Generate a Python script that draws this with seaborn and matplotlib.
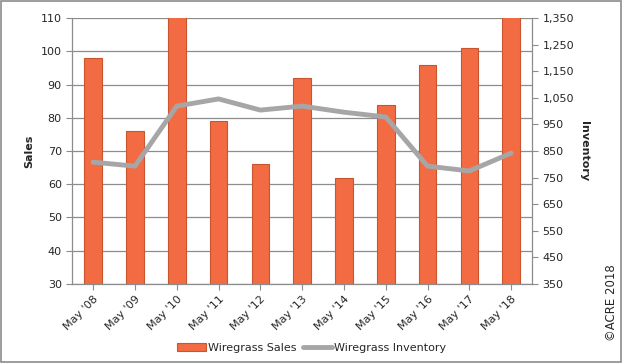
import pandas as pd
import matplotlib.pyplot as plt
import seaborn as sns
from matplotlib.ticker import FuncFormatter, MultipleLocator, FixedLocator

# Data
years = ["May '08", "May '09", "May '10", "May '11", "May '12", "May '13",
         "May '14", "May '15", "May '16", "May '17", "May '18"]
sales = [98, 76, 112, 79, 66, 92, 62, 84, 96, 101, 112]
inventory = [808, 793, 1019, 1046, 1004, 1019, 996, 978, 793, 775, 842]
inv_ticks = list(range(350, 1351, 100))

df = pd.DataFrame({'year': years, 'sales': sales, 'inventory': inventory})

sns.set_style('white')
plt.rcParams['font.family'] = ['DejaVu Sans']

fig = plt.figure(figsize=(6.23, 3.63), dpi=100)
ax = fig.add_axes([0.116, 0.218, 0.738, 0.732])

# Sales bars
sns.barplot(x='year', y='sales', data=df, ax=ax, color='#F26B43',
            saturation=1, width=0.42, edgecolor='#C85530', linewidth=0.8,
            label='Wiregrass Sales', legend=False)
ax.set_ylim(30, 110)
ax.yaxis.set_major_locator(MultipleLocator(10))
ax.grid(axis='y', color='#8c8c8c', linewidth=0.9)
ax.set_axisbelow(True)
ax.set_xlabel('')
ax.set_ylabel('Sales', fontsize=8, fontweight='bold', labelpad=5)
ax.tick_params(axis='y', labelsize=8, length=4, color='#8c8c8c', left=True)
ax.tick_params(axis='x', labelsize=8, length=4, color='#8c8c8c', bottom=True)
plt.setp(ax.get_xticklabels(), rotation=45, ha='right', rotation_mode='anchor')
ax.set_xlim(-0.5, len(years) - 0.5)

# Inventory line
ax2 = ax.twinx()
sns.lineplot(x='year', y='inventory', data=df, ax=ax2, color='#a6a6a6',
             linewidth=3.5, label='Wiregrass Inventory', legend=False)
ax2.set_ylim(350, 1350)
ax2.yaxis.set_major_locator(FixedLocator(inv_ticks))
ax2.yaxis.set_major_formatter(FuncFormatter(lambda v, p: f'{int(v):,}'))
ax2.set_ylabel('Inventory', fontsize=8, fontweight='bold', rotation=-90, labelpad=11)
ax2.tick_params(axis='y', labelsize=8, length=4, color='#8c8c8c', right=True)
ax2.grid(False)

for a in (ax, ax2):
    for side in ['top', 'left', 'right', 'bottom']:
        a.spines[side].set_visible(False)
ax.spines['left'].set_visible(True)
ax.spines['bottom'].set_visible(True)
ax2.spines['right'].set_visible(True)
for s in (ax.spines['left'], ax.spines['bottom'], ax2.spines['right']):
    s.set_color('#8c8c8c')
    s.set_linewidth(0.9)

# Legend
h1, l1 = ax.get_legend_handles_labels()
h2, l2 = ax2.get_legend_handles_labels()
fig.legend(h1 + h2, ['Wiregrass Sales', 'Wiregrass Inventory'], loc='lower center',
           bbox_to_anchor=(0.5, 0.0), ncol=2, frameon=False, fontsize=8,
           handlelength=2.6, columnspacing=0.6, handletextpad=0.2)

fig.text(0.982, 0.165, '\u00a9ACRE 2018', rotation=90, fontsize=8.5,
         ha='center', va='center')

# Outer border
fig.patches.append(plt.Rectangle((0.002, 0.003), 0.995, 0.993, transform=fig.transFigure,
                                 fill=False, edgecolor='#8c8c8c', linewidth=1.2))

fig.savefig('out.png', dpi=100)
